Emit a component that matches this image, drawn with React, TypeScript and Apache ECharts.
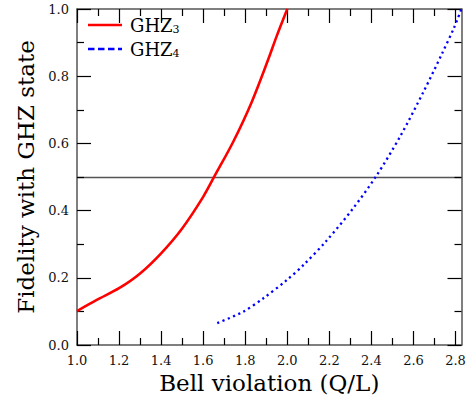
import React, { useEffect, useRef } from "react";
import * as echarts from "echarts";

const ghz3X = [1.0, 1.094, 1.2, 1.3, 1.4, 1.5, 1.6, 1.657, 1.743, 1.83, 1.91, 1.95, 2.0];
const ghz3Y = [0.101, 0.134, 0.169, 0.213, 0.273, 0.347, 0.441, 0.506, 0.605, 0.722, 0.851, 0.92, 1.0];

const ghz4X = [1.667, 1.79, 1.886, 1.997, 2.08, 2.186, 2.311, 2.422, 2.537, 2.652, 2.735, 2.792, 2.828];
const ghz4Y = [0.065, 0.099, 0.139, 0.193, 0.24, 0.31, 0.405, 0.502, 0.621, 0.759, 0.866, 0.943, 1.0];

const xMajorTicks = [1.0, 1.2, 1.4, 1.6, 1.8, 2.0, 2.2, 2.4, 2.6, 2.8];
const xMinorTicks = [1.1, 1.3, 1.5, 1.7, 1.9, 2.1, 2.3, 2.5, 2.7];
const yMajorTicks = [0, 0.2, 0.4, 0.6, 0.8, 1.0];
const yMinorTicks = [0.1, 0.3, 0.5, 0.7, 0.9];
const xMin = 1;
const xMax = 2.8284;
const yMin = 0;
const yMax = 1;
const thresholdY = 0.5;

const FONT = "DejaVu Serif";
const AXIS_COLOR = "#555";

const W = 470;
const H = 401;
const G_LEFT = 77;
const G_RIGHT = 8.5;
const G_TOP = 9;
const G_BOTTOM = 56;
const PLOT_W = W - G_LEFT - G_RIGHT;
const PLOT_H = H - G_TOP - G_BOTTOM;
const MAJOR = 14;
const MINOR = 7;

export default function App() {
  const ref = useRef<HTMLDivElement>(null);
  useEffect(() => {
    if (!ref.current) return;
    const chart = echarts.init(ref.current, undefined, { renderer: "svg" });

    const labelStyle = { fontFamily: FONT, fontSize: 13, color: "#111" };
    const frameLine = () => ({ show: true, onZero: false, lineStyle: { color: AXIS_COLOR, width: 1.5 } });

    // inside tick marks, expressed in data units along the axes
    const yLen = (px: number) => (px / PLOT_H) * (yMax - yMin);
    const xLen = (px: number) => (px / PLOT_W) * (xMax - xMin);
    const tickLines: any[] = [];
    const addX = (vals: number[], px: number) => {
      vals.forEach((x) => {
        tickLines.push([{ coord: [x, yMin] }, { coord: [x, yMin + yLen(px)] }]);
        tickLines.push([{ coord: [x, yMax] }, { coord: [x, yMax - yLen(px)] }]);
      });
    };
    const addY = (vals: number[], px: number) => {
      vals.forEach((y) => {
        tickLines.push([{ coord: [xMin, y] }, { coord: [xMin + xLen(px), y] }]);
        tickLines.push([{ coord: [xMax, y] }, { coord: [xMax - xLen(px), y] }]);
      });
    };
    addX(xMajorTicks, MAJOR);
    addX(xMinorTicks, MINOR);
    addY(yMajorTicks, MAJOR);
    addY(yMinorTicks, MINOR);

    chart.setOption({
      animation: false,
      backgroundColor: "#fff",
      grid: { left: G_LEFT, right: G_RIGHT, top: G_TOP, bottom: G_BOTTOM },
      xAxis: [
        {
          type: "value", min: xMin, max: xMax, position: "bottom",
          axisLine: frameLine(), axisTick: { show: false }, splitLine: { show: false },
          axisLabel: { ...labelStyle, customValues: xMajorTicks, formatter: (v: number) => v.toFixed(1), margin: 9 },
          name: "Bell violation (Q/L)", nameLocation: "middle", nameGap: 26,
          nameTextStyle: { fontFamily: FONT, fontSize: 23, color: "#000" },
        },
        {
          type: "value", min: xMin, max: xMax, position: "top",
          axisLine: frameLine(), axisTick: { show: false }, splitLine: { show: false }, axisLabel: { show: false },
        },
      ],
      yAxis: [
        {
          type: "value", min: yMin, max: yMax, interval: 0.2, position: "left",
          axisLine: frameLine(), axisTick: { show: false }, splitLine: { show: false },
          axisLabel: { ...labelStyle, formatter: (v: number) => v.toFixed(1), margin: 8 },
          name: "Fidelity with GHZ state", nameLocation: "middle", nameGap: 40,
          nameTextStyle: { fontFamily: FONT, fontSize: 23, color: "#000" },
        },
        {
          type: "value", min: yMin, max: yMax, interval: 0.2, position: "right",
          axisLine: frameLine(), axisTick: { show: false }, splitLine: { show: false }, axisLabel: { show: false },
        },
      ],
      legend: {
        orient: "vertical",
        left: 88,
        top: 15,
        padding: 0,
        itemWidth: 34,
        itemHeight: 2.6,
        itemGap: 4,
        formatter: (name: string) => `GHZ{s|${name.slice(3)}}`,
        textStyle: {
          fontFamily: FONT,
          fontSize: 18,
          color: "#000",
          lineHeight: 20,
          padding: [0, 0, 0, 3],
          rich: { s: { fontFamily: FONT, fontSize: 11, lineHeight: 11, verticalAlign: "bottom", color: "#000" } },
        },
        data: [
          { name: "GHZ3", icon: "path://M0,0H34V2.6H0Z" },
          {
            name: "GHZ4",
            icon: "path://M0,0H6.5V2.6H0ZM10,0H16.5V2.6H10ZM20,0H26.5V2.6H20ZM30,0H34V2.6H30Z",
          },
        ],
      },
      series: [
        {
          name: "GHZ3",
          type: "line",
          xAxisIndex: 0,
          yAxisIndex: 0,
          symbol: "none",
          smooth: 0.3,
          z: 5,
          data: ghz3X.map((x, i) => [x, ghz3Y[i]]),
          lineStyle: { color: "#ff0000", width: 2.6 },
          itemStyle: { color: "#ff0000" },
          markLine: {
            silent: true,
            symbol: "none",
            label: { show: false },
            emphasis: { disabled: true },
            lineStyle: { color: "#000", width: 1.2, type: "solid" },
            data: [
              { yAxis: thresholdY, lineStyle: { color: "#555", width: 1.3, type: "solid" } },
              ...tickLines,
            ],
          },
        },
        {
          name: "GHZ4",
          type: "line",
          xAxisIndex: 0,
          yAxisIndex: 0,
          symbol: "none",
          smooth: 0.3,
          z: 5,
          data: ghz4X.map((x, i) => [x, ghz4Y[i]]),
          lineStyle: { color: "#0000ff", width: 2.3, type: [2.2, 3.5] },
          itemStyle: { color: "#0000ff" },
        },
      ],
    });
    return () => chart.dispose();
  }, []);
  return (
    <div
      ref={ref}
      style={{ position: "fixed", left: 0, top: 0, width: W, height: H, background: "#fff" }}
    />
  );
}
